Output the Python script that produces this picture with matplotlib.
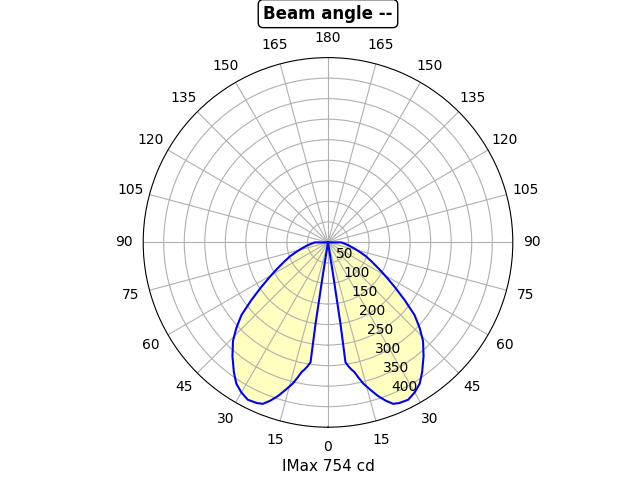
import numpy as np
import matplotlib
matplotlib.use("Agg")
import matplotlib.pyplot as plt

# half of the (symmetric) polar curve, angle from nadir in degrees -> cd
angles = [180, 90, 86, 82, 78, 74, 70, 66, 62, 59, 56, 53, 50, 47, 44, 40,
          36, 33, 30, 27, 24, 22, 20, 18, 16, 14, 12.5, 11.5, 10.5, 9.5,
          8.3, 8.7, 9, 0]
intensity = [0, 32, 40, 50, 62, 78, 98, 118, 144, 168, 198, 234, 275, 305,
             333, 362, 390, 410, 422, 430, 428, 424, 410, 393, 373, 354, 335,
             322, 315, 307, 295, 200, 80, 0]

title = "Beam angle --"
imax_label = "IMax 754 cd"
r_ticks = [50, 100, 150, 200, 250, 300, 350, 400]
r_max = 450

# left side (negative angles) then right side
theta = np.radians(np.concatenate([-np.array(angles), np.array(angles[::-1])]))
r = np.concatenate([np.array(intensity), np.array(intensity[::-1])])

fig = plt.figure(figsize=(6.4, 4.8), dpi=100)
ax = fig.add_subplot(111, projection="polar")
ax.set_theta_zero_location("S")

ax.fill(theta, r, color="yellow", alpha=0.25)
ax.plot(theta, r, color="blue", lw=1.5)

grid_angles = np.arange(0, 360, 15)
labels = [str(a if a <= 180 else 360 - a) for a in grid_angles]
ax.set_thetagrids(grid_angles, labels)
ax.set_rlim(0, r_max)
ax.set_rticks(r_ticks)
ax.grid(True, color="#b0b0b0")

ax.set_title(title, fontsize=12, fontweight="bold", pad=9,
             bbox=dict(boxstyle="round", facecolor="white", edgecolor="black"))
ax.set_xlabel(imax_label, fontsize=11)

fig.savefig("out.png")
